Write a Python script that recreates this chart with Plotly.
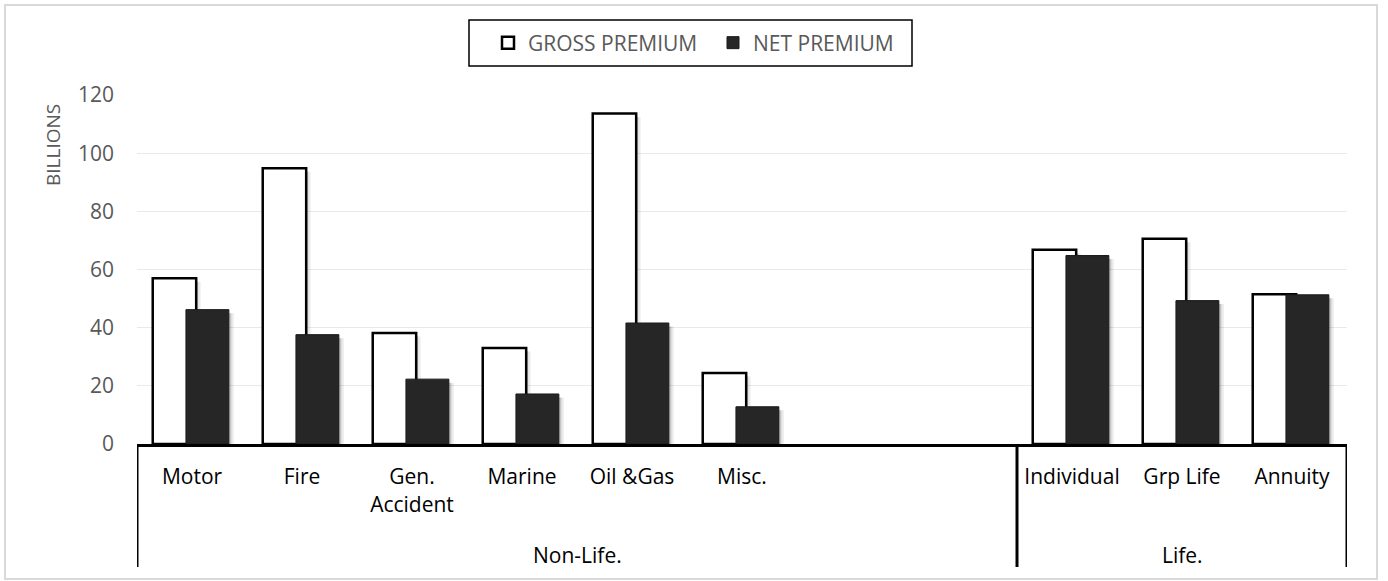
import plotly.graph_objects as go

# ---- data ----
categories = ["Motor", "Fire", "Gen.<br>Accident", "Marine", "Oil &Gas", "Misc.",
              " ", "  ", "Individual", "Grp Life", "Annuity"]
groups = ["Non-Life."] * 8 + ["Life."] * 3
gross_premium = [57.0, 94.8, 38.2, 33.0, 113.6, 24.4, None, None, 66.8, 70.6, 51.5]
net_premium = [46.2, 37.6, 22.3, 17.2, 41.6, 12.8, None, None, 64.8, 49.3, 51.3]
y_ticks = [0, 20, 40, 60, 80, 100, 120]

# ---- geometry ----
W, H = 1388, 581
ML, MR, MT, MB = 137, 41, 95, 137
PW, PH = W - ML - MR, H - MT - MB


def px_x(p):  # pixel -> paper x
    return (p - ML) / PW


def px_y(p):  # pixel -> paper y
    return (H - MB - p) / PH


FONT = "Open Sans"
GRAY = "#595959"

fig = go.Figure()


def shadow(vals):
    return [None if v is None else max(v - 1.2, 0) for v in vals]


# soft shadows (style only)
for vals, off in [(gross_premium, -0.357), (net_premium, -0.055)]:
    for dx, a in [(0.018, 0.16), (0.04, 0.08)]:
        fig.add_trace(go.Bar(
            x=categories, y=shadow(vals), width=0.395, offset=off + dx,
            marker=dict(color=f"rgba(0,0,0,{a})", line=dict(width=0)),
            showlegend=False, hoverinfo="skip"))

fig.add_trace(go.Bar(
    name="GROSS PREMIUM", x=categories, y=gross_premium, width=0.395, offset=-0.357,
    marker=dict(color="white", line=dict(color="black", width=2.5))))
fig.add_trace(go.Bar(
    name="NET PREMIUM", x=categories, y=net_premium, width=0.39, offset=-0.055,
    marker=dict(color="#262626", line=dict(color="#1a1a1a", width=1))))

# group dividers and labels
shapes = []
annotations = []
bounds = [-0.5]
for i in range(1, len(groups)):
    if groups[i] != groups[i - 1]:
        bounds.append(i - 0.5)
bounds.append(len(groups) - 0.5)
for b in bounds:
    shapes.append(dict(type="line", xref="x", yref="paper", x0=b, x1=b,
                       y0=0, y1=px_y(567), line=dict(color="black", width=3)))
for a, b in zip(bounds[:-1], bounds[1:]):
    idx = int(a + 0.5)
    annotations.append(dict(x=(a + b) / 2, xref="x", y=px_y(555), yref="paper",
                            text=groups[idx], showarrow=False, yanchor="middle",
                            font=dict(family=FONT, size=21, color="black")))

# y-axis title (placed near the top, as in the original)
annotations.append(dict(x=px_x(53), xref="paper", y=px_y(145), yref="paper",
                        text="BILLIONS", textangle=-90, showarrow=False,
                        xanchor="center", yanchor="middle",
                        font=dict(family=FONT, size=19, color=GRAY)))

# legend frame
shapes.append(dict(type="rect", xref="paper", yref="paper",
                   x0=px_x(469), x1=px_x(912), y0=px_y(66), y1=px_y(20),
                   line=dict(color="black", width=1.5), fillcolor="white",
                   layer="below"))

# outer chart border
shapes.append(dict(type="rect", xref="paper", yref="paper",
                   x0=px_x(5), x1=px_x(1377), y0=px_y(579), y1=px_y(5),
                   line=dict(color="#d9d9d9", width=2), layer="below"))

fig.update_layout(
    width=W, height=H,
    margin=dict(l=ML, r=MR, t=MT, b=MB, autoexpand=False),
    paper_bgcolor="white", plot_bgcolor="white",
    barmode="overlay",
    font=dict(family=FONT, color=GRAY),
    showlegend=True,
    legend=dict(orientation="h", x=px_x(488), xanchor="left",
                y=px_y(43), yanchor="middle",
                borderwidth=0, bgcolor="rgba(0,0,0,0)",
                font=dict(family=FONT, size=21, color=GRAY),
                itemwidth=30, traceorder="normal",
                entrywidth=180, entrywidthmode="pixels"),
    xaxis=dict(type="category", categoryorder="array", categoryarray=categories,
               range=[-0.5, len(categories) - 0.5],
               showline=True, linecolor="black", linewidth=3,
               showgrid=False, zeroline=False, ticks="",
               ticklabelstandoff=12,
               tickfont=dict(family=FONT, size=21, color="black")),
    yaxis=dict(range=[0, 120], tickvals=y_ticks, showgrid=True,
               gridcolor="#e9e9e9", gridwidth=1, zeroline=False, showline=False,
               ticks="", ticklabelstandoff=22,
               tickfont=dict(family=FONT, size=21, color=GRAY)),
    shapes=shapes,
    annotations=annotations,
)

fig.write_html("out.html", config={"displayModeBar": False},
               post_script="document.body.style.margin='0';document.body.style.overflow='hidden';")
